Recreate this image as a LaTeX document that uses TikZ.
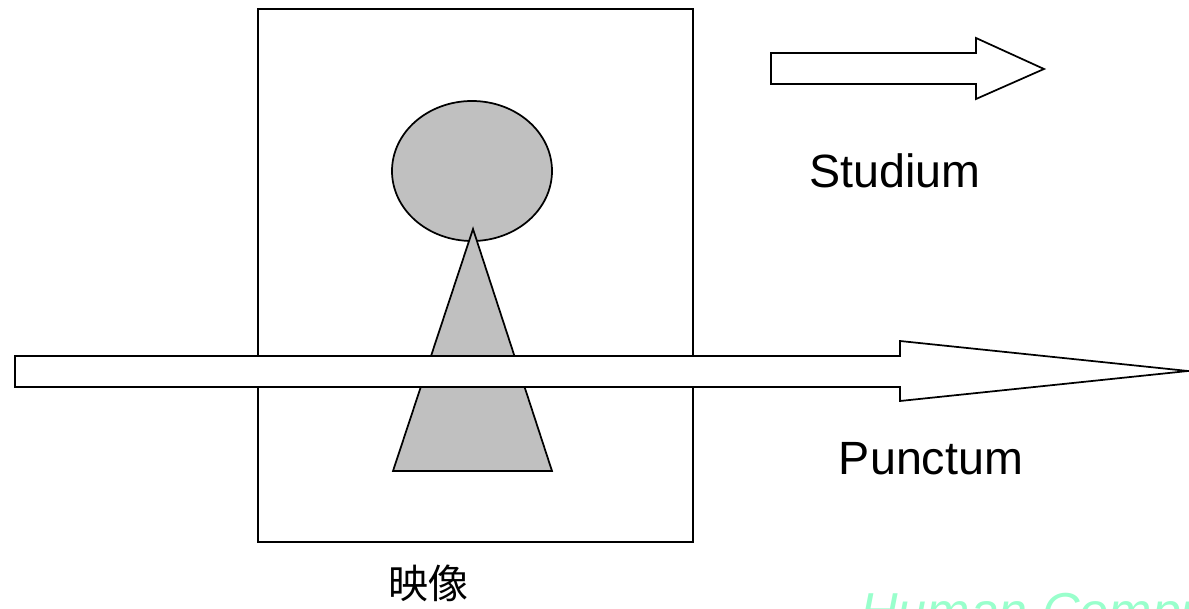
\documentclass[tikz,border=0pt]{standalone}
\usepackage{fontspec}
\setmainfont{Liberation Sans}
\newfontfamily\jpfont{Noto Sans CJK JP}
\usepackage{tikz}

\definecolor{figgray}{RGB}{192,192,192}
\definecolor{mintgreen}{RGB}{153,255,204}

\tikzset{
  outline/.style={draw=black,line width=1.3pt,line join=miter},
  label/.style={font=\fontsize{35}{40}\selectfont,inner sep=0pt},
}

\begin{document}
\begin{tikzpicture}[x=0.75pt,y=-0.75pt]
\useasboundingbox (0,0) rectangle (1189,609);
\clip (0,0) rectangle (1189,609);

% picture frame
\draw[outline] (258,9) rectangle (693,542);
% figure: head and body
\draw[outline,fill=figgray] (472,171) ellipse[x radius=80,y radius=70];
\draw[outline,fill=figgray] (473,229) -- (552,471) -- (393,471) -- cycle;

% long arrow through the frame
\draw[outline,fill=white] (15,356) -- (900,356) -- (900,341) -- (1188,371)
  -- (900,401) -- (900,387) -- (15,387) -- cycle;
% short arrow
\draw[outline,fill=white] (771,53) -- (976,53) -- (976,38) -- (1044,69)
  -- (976,99) -- (976,84) -- (771,84) -- cycle;

\node[label] (studium) at (895,171) {Studium};
\node[label] (punctum) at (931,459) {Punctum};
\node[inner sep=0pt,font=\jpfont\fontsize{30}{36}\selectfont] (eizo) at (428,583) {映像};
\node[anchor=base west,inner sep=0pt,text=mintgreen,
  font=\itshape\fontsize{39}{44}\selectfont] (hc) at (860,629) {Human Computer};
\end{tikzpicture}
\end{document}
